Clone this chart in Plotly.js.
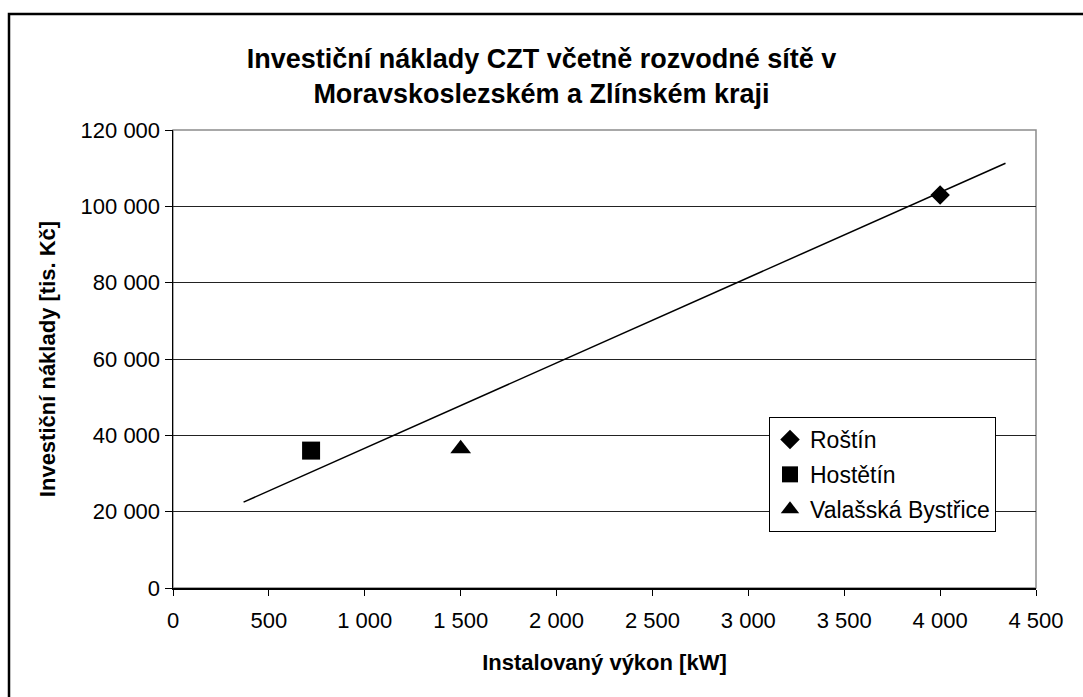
<!DOCTYPE html>
<html>
<head>
<meta charset="utf-8">
<script src="https://cdn.plot.ly/plotly-3.0.1.min.js"></script>
<style>html,body{margin:0;padding:0;background:#fff;}#chart{width:1083px;height:697px;}</style>
</head>
<body>
<div id="chart"></div>
<script>
// Data
const seriesNames = ["Roštín", "Hostětín", "Valašská Bystřice"];
const powerKW = [4000, 720, 1500];             // Instalovaný výkon [kW]
const costTisKc = [103000, 36000, 36500];       // Investiční náklady [tis. Kč]
const markerSymbols = ["diamond", "square", "triangle-up"];
const trendX = [368, 4341];                     // linear trend line ends
const trendY = [22500, 111300];

const xTicks = [0, 500, 1000, 1500, 2000, 2500, 3000, 3500, 4000, 4500];
const yTicks = [0, 20000, 40000, 60000, 80000, 100000, 120000];

const FONT = '"Liberation Sans", Arial, Helvetica, sans-serif';
const markerSizes = [15, 18, 18];

const traces = seriesNames.map((name, i) => ({
  type: 'scatter',
  mode: 'markers',
  name: name,
  legendgroup: 'g' + i,
  x: [powerKW[i]],
  y: [costTisKc[i]],
  marker: {symbol: markerSymbols[i], size: markerSizes[i], color: '#000', line: {width: 0}},
  hoverinfo: 'skip'
}));
traces.push({
  type: 'scatter',
  mode: 'lines',
  x: trendX,
  y: trendY,
  line: {color: '#000', width: 1.5},
  showlegend: false,
  hoverinfo: 'skip'
});

const L = 173, R = 47, T = 130, B = 109;
const W = 1083, H = 697;
const pw = W - L - R, ph = H - T - B;
const px = v => (v - L) / pw;
const py = v => (H - B - v) / ph;

const layout = {
  width: W, height: H,
  margin: {l: L, r: R, t: T, b: B},
  paper_bgcolor: '#fff',
  plot_bgcolor: '#fff',
  separators: ', ',
  font: {family: FONT, color: '#000', size: 22},
  showlegend: true,
  title: {
    text: 'Investiční náklady CZT včetně rozvodné sítě v<br>Moravskoslezském a Zlínském kraji',
    font: {family: FONT, size: 27, color: '#000', weight: 'bold'},
    xref: 'container', x: 0.5, xanchor: 'center',
    yref: 'container', y: 1 - 68 / H, yanchor: 'middle'
  },
  xaxis: {
    range: [0, 4500],
    tickvals: xTicks,
    tickformat: ',d',
    ticks: 'outside', ticklen: 6, tickcolor: '#000', tickwidth: 1,
    ticklabelstandoff: 6,
    showline: true, linecolor: '#000', linewidth: 1.5,
    showgrid: false, zeroline: false,
    tickfont: {family: FONT, size: 22, color: '#000'},
    title: {text: 'Instalovaný výkon [kW]', font: {family: FONT, size: 22, color: '#000', weight: 'bold'}, standoff: 22},
    fixedrange: true
  },
  yaxis: {
    range: [0, 120000],
    tickvals: yTicks,
    tickformat: ',d',
    ticks: 'outside', ticklen: 7, tickcolor: '#000', tickwidth: 1,
    showline: true, linecolor: '#000', linewidth: 1.5,
    showgrid: true, gridcolor: '#222', gridwidth: 1,
    zeroline: false,
    tickfont: {family: FONT, size: 22, color: '#000'},
    title: {text: 'Investiční náklady [tis. Kč]', font: {family: FONT, size: 22, color: '#000', weight: 'bold'}, standoff: 19},
    fixedrange: true
  },
  legend: {
    x: px(769), y: py(417), xanchor: 'left', yanchor: 'top',
    bgcolor: '#fff', bordercolor: '#000', borderwidth: 1,
    font: {family: FONT, size: 23, color: '#000'},
    traceorder: 'grouped', tracegroupgap: 2,
    itemclick: false, itemdoubleclick: false
  },
  shapes: [
    {type: 'rect', xref: 'x domain', yref: 'y domain', x0: 0, x1: 1, y0: 0, y1: 1,
     line: {color: '#8c8c8c', width: 1.5}, layer: 'below'},
    {type: 'rect', xref: 'paper', yref: 'paper', x0: px(9), x1: px(1110), y0: py(14), y1: py(720),
     line: {color: '#000', width: 2.5}, fillcolor: 'rgba(0,0,0,0)'}
  ]
};

Plotly.newPlot('chart', traces, layout, {staticPlot: true, displayModeBar: false});
</script>
</body>
</html>
